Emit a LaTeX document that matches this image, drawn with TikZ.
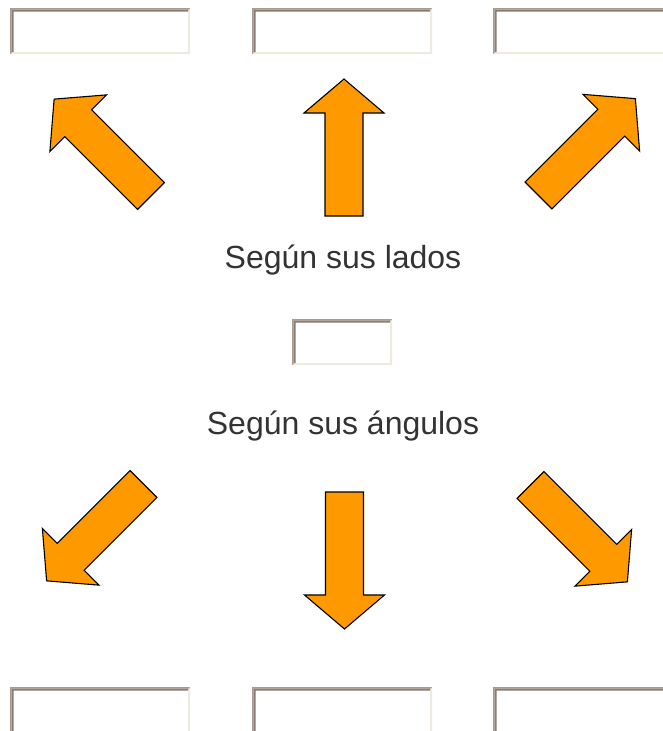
\documentclass[tikz,border=0pt]{standalone}
\usepackage{fontspec}
\setmainfont{Liberation Sans}
\definecolor{arrowfill}{RGB}{255,153,0}
\definecolor{bevelout}{RGB}{170,155,145}
\definecolor{bevelin}{RGB}{138,124,114}
\definecolor{bevellight}{RGB}{238,234,222}
\definecolor{txtgray}{RGB}{51,51,51}
\tikzset{
  arrowshape/.style={fill=arrowfill, draw=black, line width=1.1pt, line join=miter},
  label/.style={font=\fontsize{32}{38}\selectfont, text=txtgray, inner sep=0pt, anchor=base}
}
\newcommand{\bigarrow}[3]{%
  \begin{scope}[shift={(#1,#2)}, rotate=#3]
    \path[arrowshape] (0,-19) -- (103,-19) -- (103,-40) -- (137,0) -- (103,40) -- (103,19) -- (0,19) -- cycle;
  \end{scope}}
\newcommand{\bevelbox}[5]{%
  % #1 name, #2 x0, #3 y0, #4 x1, #5 y1
  \fill[white] (#2,#3) rectangle (#4,#5);
  \fill[bevellight] (#2,#5) -- (#4,#5) -- (#4,#3) -- ({#4-2},{#3+2}) -- ({#4-2},{#5-2}) -- ({#2+2},{#5-2}) -- cycle;
  \fill[bevelout] (#2,#5) -- (#2,#3) -- (#4,#3) -- ({#4-1},{#3+1.5}) -- ({#2+1.5},{#3+1.5}) -- ({#2+1.5},{#5-1}) -- cycle;
  \fill[bevelin] ({#2+1.5},{#5-2}) -- ({#2+1.5},{#3+1.5}) -- ({#4-2},{#3+1.5}) -- ({#4-2},{#3+3.5}) -- ({#2+3.5},{#3+3.5}) -- ({#2+3.5},{#5-2}) -- cycle;
  \coordinate (#1) at ({(#2+#4)/2},{(#3+#5)/2});}
\begin{document}
\begin{tikzpicture}[x=1pt, y=-1pt]
  \useasboundingbox (0,0) rectangle (663,731);
  \clip (0,0) rectangle (663,731);
  \fill[white] (0,0) rectangle (663,731);
  % top boxes
  \bevelbox{boxTL}{10}{8}{190}{54}
  \bevelbox{boxTC}{252}{8}{432}{54}
  \bevelbox{boxTR}{493}{8}{673}{54}
  % middle box
  \bevelbox{boxM}{292}{319}{392}{365}
  % bottom boxes
  \bevelbox{boxBL}{10}{687}{190}{745}
  \bevelbox{boxBC}{252}{687}{432}{745}
  \bevelbox{boxBR}{493}{687}{673}{745}
  % arrows
  \bigarrow{151}{196}{135}
  \bigarrow{344}{216}{90}
  \bigarrow{538.5}{195.5}{45}
  \bigarrow{143.5}{484}{-135}
  \bigarrow{344.5}{492}{-90}
  \bigarrow{530.5}{485}{-45}
  % labels
  \node[label] (lados) at (343,268) {Según sus lados};
  \node[label] (angulos) at (343,434) {Según sus ángulos};
\end{tikzpicture}
\end{document}
